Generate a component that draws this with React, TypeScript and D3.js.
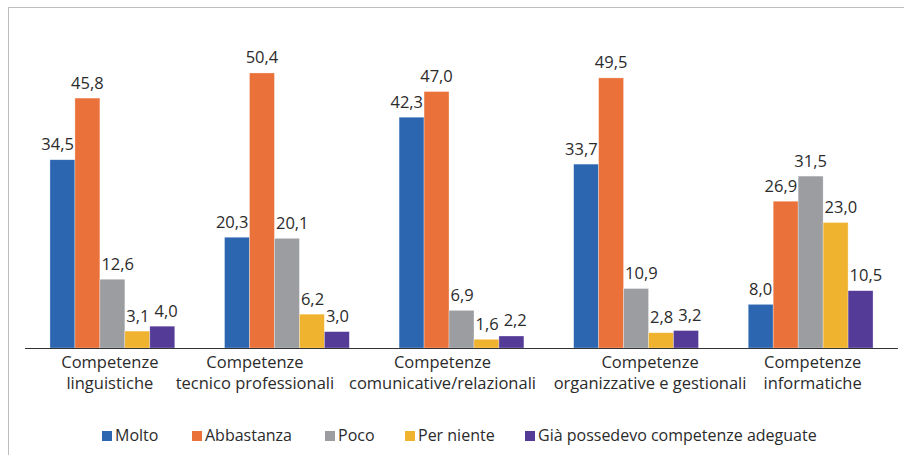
import React from "react";
import * as d3 from "d3";

const WIDTH = 904;
const HEIGHT = 455;

const categories = [
  ["Competenze", "linguistiche"],
  ["Competenze", "tecnico professionali"],
  ["Competenze", "comunicative/relazionali"],
  ["Competenze", "organizzative e gestionali"],
  ["Competenze", "informatiche"],
];
const seriesNames = ["Molto", "Abbastanza", "Poco", "Per niente", "Già possedevo competenze adeguate"];
const molto = [34.5, 20.3, 42.3, 33.7, 8.0];
const abbastanza = [45.8, 50.4, 47.0, 49.5, 26.9];
const poco = [12.6, 20.1, 6.9, 10.9, 31.5];
const perNiente = [3.1, 6.2, 1.6, 2.8, 23.0];
const giaPossedevo = [4.0, 3.0, 2.2, 3.2, 10.5];
const colors = ["#2C66B1", "#EA723A", "#9B9DA1", "#F0B330", "#553B98"];

// layout of the labels (as Excel placed them)
const legendX = [102, 192, 325, 405, 525];
const labelShift = [-2.5, -32, -19, 14, 2];

const series = [molto, abbastanza, poco, perNiente, giaPossedevo];
const FONT = "'Open Sans', sans-serif";
const VAL_SIZE = 16.5;

const App = () => {
  const x0 = d3.scaleBand().domain(d3.range(categories.length).map(String)).range([25, 898]).paddingInner(0.285).paddingOuter(0.143);
  const x1 = d3.scaleBand().domain(d3.range(series.length).map(String)).range([0, x0.bandwidth()]);
  const y = d3.scaleLinear().domain([0, 60]).range([348, 20.6]);
  const fmt = (v: number) => v.toFixed(1).replace(".", ",");
  const textW = (t: string) => ((t.length - 1) * 0.572 + 0.26) * VAL_SIZE;

  // nudge value labels away from taller neighbouring bars and from each other, like Excel does
  const labelPos: number[][] = categories.map((_, ci) => {
    const out: number[] = [];
    series.forEach((s, si) => {
      const bx = (x0(String(ci)) ?? 0) + (x1(String(si)) ?? 0);
      const bw = x1.bandwidth();
      const w = textW(fmt(s[ci]));
      const base = y(s[ci]) - 9.5;
      let cx = bx + bw / 2;
      const right = series[si + 1] ? y(series[si + 1][ci]) : Infinity;
      const left = series[si - 1] ? y(series[si - 1][ci]) : Infinity;
      if (right < base && cx + w / 2 > bx + bw - 1) cx = bx + bw - 1 - w / 2;
      else if (left < base && cx - w / 2 < bx + 1.5) cx = bx + 1.5 + w / 2;
      if (si > 0) {
        const prevBase = y(series[si - 1][ci]) - 9.5;
        const prevRight = out[si - 1] + textW(fmt(series[si - 1][ci])) / 2;
        if (Math.abs(prevBase - base) < 14 && cx - w / 2 < prevRight + 5) cx = prevRight + 5 + w / 2;
      }
      out.push(cx);
    });
    return out;
  });

  return (
    <svg width={WIDTH} height={HEIGHT} style={{ position: "absolute", left: 0, top: 0 }}>
      <rect x={8.5} y={7.5} width={WIDTH} height={HEIGHT} fill="#fff" stroke="#BDBDBD" strokeWidth={1} />
      {categories.map((cat, ci) =>
        series.map((s, si) => {
          const bx = (x0(String(ci)) ?? 0) + (x1(String(si)) ?? 0);
          const bw = x1.bandwidth();
          return (
            <rect key={`${ci}_${si}`} x={bx} y={y(s[ci])} width={bw} height={y(0) - y(s[ci])} fill={colors[si]} stroke="#ffffff" strokeOpacity={0.5} strokeWidth={0.6} />
          );
        })
      )}
      {categories.map((cat, ci) =>
        series.map((s, si) => (
          <text key={`l${ci}_${si}`} x={labelPos[ci][si]} y={y(s[ci]) - 9.5} textAnchor="middle" fontFamily={FONT} fontSize={VAL_SIZE} fill="#2b2b2b">
            {fmt(s[ci])}
          </text>
        ))
      )}
      <line x1={25} x2={898} y1={348.5} y2={348.5} stroke="#333" strokeWidth={1} />
      {categories.map((cat, ci) => {
        const cx = (x0(String(ci)) ?? 0) + x0.bandwidth() / 2 + labelShift[ci];
        return (
          <text key={ci} x={cx} textAnchor="middle" fontFamily={FONT} fontSize={16.5} fill="#2b2b2b">
            <tspan x={cx} y={367.5}>{cat[0]}</tspan>
            <tspan x={cx} y={389}>{cat[1]}</tspan>
          </text>
        );
      })}
      {seriesNames.map((name, i) => (
        <g key={name}>
          <rect x={legendX[i]} y={431} width={10} height={10} fill={colors[i]} />
          <text x={legendX[i] + 13} y={441} fontFamily={FONT} fontSize={16} fill="#2b2b2b">
            {name}
          </text>
        </g>
      ))}
    </svg>
  );
};

export default App;
